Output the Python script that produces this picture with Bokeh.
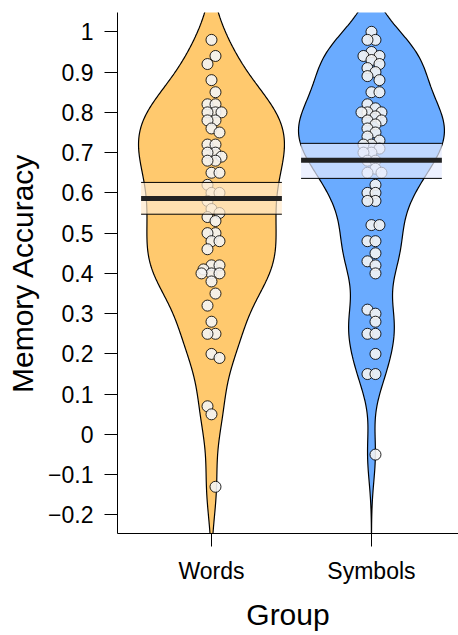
import numpy as np
from bokeh.plotting import figure
from bokeh.models import Range1d, FixedTicker, ColumnDataSource
from bokeh.embed import file_html
from bokeh.resources import INLINE

# ---------------- data ----------------
groups = ["Words", "Symbols"]
group_x = [1, 2]

words = [0.98, 0.94, 0.92, 0.88, 0.85,
         0.82, 0.82, 0.80, 0.80, 0.80, 0.78, 0.78, 0.76, 0.75,
         0.72, 0.72, 0.70, 0.70, 0.69, 0.68, 0.68, 0.65, 0.65,
         0.62, 0.60, 0.60, 0.58, 0.56, 0.55,
         0.54, 0.53,
         0.50, 0.50, 0.48, 0.48, 0.46,
         0.42, 0.42, 0.41, 0.40, 0.40, 0.40, 0.38,
         0.35, 0.32, 0.28, 0.25, 0.25, 0.20, 0.19, 0.07, 0.05, -0.13]

symbols = [1.00, 0.98, 0.98, 0.95, 0.94, 0.94,
           0.93, 0.92, 0.91, 0.90, 0.89, 0.88,
           0.85, 0.85,
           0.82, 0.81, 0.80, 0.80, 0.80, 0.79, 0.78, 0.78, 0.77, 0.76, 0.75, 0.74,
           0.73, 0.72, 0.72, 0.71, 0.70, 0.70, 0.68, 0.68, 0.66, 0.65, 0.65,
           0.62, 0.60, 0.60, 0.58, 0.58,
           0.52, 0.52, 0.48, 0.48, 0.45, 0.43, 0.42, 0.40,
           0.31, 0.30, 0.28, 0.25, 0.25, 0.20, 0.15, 0.15, -0.05]

means = [0.586, 0.681]
ci_low = [0.547, 0.636]
ci_high = [0.626, 0.723]

y_ticks = [-0.2, -0.1, 0.0, 0.1, 0.2, 0.3, 0.4, 0.5, 0.6, 0.7, 0.8, 0.9, 1.0]
y_tick_labels = ["\u22120.2", "\u22120.1", "0", "0.1", "0.2", "0.3", "0.4",
                 "0.5", "0.6", "0.7", "0.8", "0.9", "1"]

# ---------------- styles ----------------
bean_colors = ["#FFC96E", "#6AABFF"]
band_colors = ["#FFEACC", "#E5EBFF"]
bw_adjust = [0.78, 0.72]
FONT = "Liberation Sans"

PX_X = 160.0      # pixels per x unit
PX_Y = 402.5      # pixels per y unit
BEAN_HALF = 0.456
BAND_HALF = 0.44

p = figure(width=458, height=635, output_backend="svg", toolbar_location=None,
           x_range=Range1d(0.4125, 2.544), y_range=Range1d(-0.246, 1.048),
           min_border_left=117, min_border_right=0, min_border_top=12,
           min_border_bottom=102)
p.outline_line_color = None
p.xgrid.visible = False
p.ygrid.visible = False
p.background_fill_color = "white"
p.border_fill_color = "white"


def nrd0(d):
    d = np.asarray(d)
    sd = d.std(ddof=1)
    iqr = np.subtract(*np.percentile(d, [75, 25]))
    return 0.9 * min(sd, iqr / 1.34) * len(d) ** (-0.2)


def kde(d, grid, bw):
    d = np.asarray(d)
    return np.exp(-0.5 * ((grid[:, None] - d[None, :]) / bw) ** 2).sum(axis=1)


def swarm(vals, dmin=7.0):
    # deterministic jitter: place each point at the nearest free offset (pixels)
    cands = [0, 4, -4, 8, -8, 10, -10, 2, -6, 6, -2]
    placed = []
    offs = []
    for i, v in enumerate(vals):
        y = v * PX_Y
        order = cands[i % 3:] + cands[:i % 3]
        best, bestd = 0, -1
        for c in order:
            dd = min([np.hypot(c - px, y - py) for px, py in placed] + [1e9])
            if dd >= dmin:
                best = c
                break
            if dd > bestd:
                best, bestd = c, dd
        placed.append((best, y))
        offs.append(best / PX_X)
    return offs


data_sets = [words, symbols]
for gi, d in enumerate(data_sets):
    cx = group_x[gi]
    bw = nrd0(d) * bw_adjust[gi]
    grid = np.linspace(min(d) - 3 * bw, max(d) + 3 * bw, 400)
    dens = kde(d, grid, bw)
    w = dens / dens.max() * BEAN_HALF
    xs = np.concatenate([cx + w, (cx - w)[::-1]])
    ys = np.concatenate([grid, grid[::-1]])
    p.patch(xs, ys, fill_color=bean_colors[gi], line_color="black", line_width=1.2)

    offs = swarm(d)
    src = ColumnDataSource(dict(x=[cx + o for o in offs], y=d))
    p.scatter("x", "y", source=src, size=11, fill_color="#F4F4F4", fill_alpha=0.9,
              line_color="black", line_alpha=0.85, line_width=1)

    # inference band
    p.quad(left=cx - BAND_HALF, right=cx + BAND_HALF, bottom=ci_low[gi], top=ci_high[gi],
           fill_color=band_colors[gi], fill_alpha=0.7, line_color=None)
    p.segment(x0=[cx - BAND_HALF] * 2, x1=[cx + BAND_HALF] * 2,
              y0=[ci_low[gi], ci_high[gi]], y1=[ci_low[gi], ci_high[gi]],
              line_color="black", line_width=1)
    # mean line
    p.segment(x0=[cx - BAND_HALF], x1=[cx + BAND_HALF], y0=[means[gi]], y1=[means[gi]],
              line_color="#222222", line_width=5)

# axes
p.xaxis.ticker = FixedTicker(ticks=group_x)
p.xaxis.major_label_overrides = {gx: g for gx, g in zip(group_x, groups)}
p.yaxis.ticker = FixedTicker(ticks=y_ticks)
p.yaxis.major_label_overrides = {t: l for t, l in zip(y_ticks, y_tick_labels)}

for ax in (p.xaxis[0], p.yaxis[0]):
    ax.major_tick_out = 13
    ax.major_tick_in = 0
    ax.minor_tick_line_color = None
    ax.axis_line_color = "black"
    ax.major_tick_line_color = "black"
    ax.major_label_text_font = FONT
    ax.major_label_text_font_size = "23px"
    ax.major_label_text_color = "black"
    ax.major_label_standoff = 11
    ax.axis_label_text_font = FONT
    ax.axis_label_text_font_size = "30px"
    ax.axis_label_text_font_style = "normal"
    ax.axis_label_text_color = "black"

p.xaxis.major_label_standoff = 11
p.xaxis.axis_label = "Group"
p.yaxis.axis_label = "Memory Accuracy"
p.xaxis.axis_label_standoff = 11
p.yaxis.axis_label_standoff = 6

open("out.html", "w").write(file_html(p, INLINE))
